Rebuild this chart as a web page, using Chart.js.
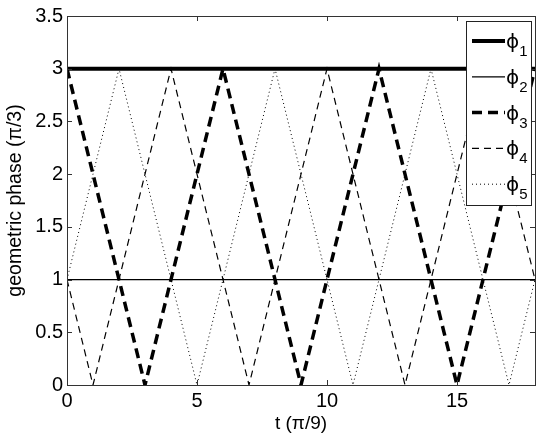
<!DOCTYPE html>
<html>
<head>
<meta charset="utf-8">
<script src="https://cdn.jsdelivr.net/npm/chart.js@4/dist/chart.umd.min.js"></script>
<style>
  html, body { margin: 0; padding: 0; background: #fff; }
  #grafico { display: block; }
</style>
</head>
<body>
<canvas id="grafico" width="545" height="436"></canvas>
<script>
// datos (t en unidades de pi/9, fase en pi/3)
const tiempos = [0, 1, 2, 3, 4, 5, 6, 7, 8, 9, 10, 11, 12, 13, 14, 15, 16, 17, 18];
const fase1 = [3, 3, 3, 3, 3, 3, 3, 3, 3, 3, 3, 3, 3, 3, 3, 3, 3, 3, 3];
const fase2 = [1, 1, 1, 1, 1, 1, 1, 1, 1, 1, 1, 1, 1, 1, 1, 1, 1, 1, 1];
const fase3 = [3, 2, 1, 0, 1, 2, 3, 2, 1, 0, 1, 2, 3, 2, 1, 0, 1, 2, 3];
const fase4 = [1, 0, 1, 2, 3, 2, 1, 0, 1, 2, 3, 2, 1, 0, 1, 2, 3, 2, 1];
const fase5 = [1, 2, 3, 2, 1, 0, 1, 2, 3, 2, 1, 0, 1, 2, 3, 2, 1, 0, 1];
const etiquetas = ['ϕ1', 'ϕ2', 'ϕ3', 'ϕ4', 'ϕ5'];
const ticksX = [0, 5, 10, 15];
const ticksY = [0, 0.5, 1, 1.5, 2, 2.5, 3, 3.5];

const fuente = '"Liberation Sans", Arial, Helvetica, sans-serif';

function puntos(valores) {
    return tiempos.map((t, i) => ({ x: t, y: valores[i] }));
}

const estilos = [
    { borderWidth: 4, borderDash: [] },
    { borderWidth: 1.2, borderDash: [] },
    { borderWidth: 3.5, borderDash: [10, 6] },
    { borderWidth: 1.2, borderDash: [7, 5] },
    { borderWidth: 1, borderDash: [1, 3] }
];

const series = [fase1, fase2, fase3, fase4, fase5];

const datasets = series.map((valores, i) => ({
    label: etiquetas[i],
    data: puntos(valores),
    borderColor: '#000',
    borderWidth: estilos[i].borderWidth,
    borderDash: estilos[i].borderDash,
    pointRadius: 0,
    fill: false,
    tension: 0
}));

// caja de ejes con marcas hacia dentro y leyenda dentro del area
const cajaYLeyenda = {
    id: 'cajaYLeyenda',
    afterDraw(chart) {
        const ctx = chart.ctx;
        const { left, right, top, bottom } = chart.chartArea;
        const sx = chart.scales.x;
        const sy = chart.scales.y;
        ctx.save();
        ctx.strokeStyle = '#333';
        ctx.lineWidth = 1;
        ctx.setLineDash([]);
        ctx.strokeRect(Math.round(left) + 0.5, Math.round(top) + 0.5,
            Math.round(right - left), Math.round(bottom - top));

        const largo = 5;
        ticksX.forEach(v => {
            const x = Math.round(sx.getPixelForValue(v)) + 0.5;
            ctx.beginPath();
            ctx.moveTo(x, bottom); ctx.lineTo(x, bottom - largo);
            ctx.moveTo(x, top); ctx.lineTo(x, top + largo);
            ctx.stroke();
        });
        ticksY.forEach(v => {
            const y = Math.round(sy.getPixelForValue(v)) + 0.5;
            ctx.beginPath();
            ctx.moveTo(left, y); ctx.lineTo(left + largo, y);
            ctx.moveTo(right, y); ctx.lineTo(right - largo, y);
            ctx.stroke();
        });

        // leyenda
        const lx = right - 69, ly = top + 5, lw = 65, lh = 184;
        ctx.fillStyle = '#fff';
        ctx.fillRect(lx, ly, lw, lh);
        ctx.strokeStyle = '#222';
        ctx.strokeRect(lx + 0.5, ly + 0.5, lw, lh);
        chart.data.datasets.forEach((ds, i) => {
            const cy = ly + 20 + i * 35.8;
            ctx.strokeStyle = '#000';
            ctx.lineWidth = ds.borderWidth;
            ctx.setLineDash(ds.borderDash);
            ctx.beginPath();
            ctx.moveTo(lx + 6, cy);
            ctx.lineTo(lx + 39, cy);
            ctx.stroke();
            ctx.setLineDash([]);
            ctx.fillStyle = '#000';
            ctx.textBaseline = 'alphabetic';
            ctx.textAlign = 'left';
            ctx.font = '20px "DejaVu Sans", ' + fuente;
            ctx.fillText(ds.label.charAt(0), lx + 40, cy + 7);
            const w = ctx.measureText(ds.label.charAt(0)).width;
            ctx.font = '15px ' + fuente;
            ctx.fillText(ds.label.slice(1), lx + 40 + w, cy + 15);
        });
        ctx.restore();
    }
};

const graph = document.querySelector('#grafico');

const config = {
    type: 'line',
    data: { datasets: datasets },
    options: {
        responsive: false,
        animation: false,
        layout: { padding: { top: 15, right: 10, left: 0, bottom: 0 } },
        plugins: {
            legend: { display: false },
            tooltip: { enabled: false }
        },
        scales: {
            x: {
                type: 'linear',
                min: 0,
                max: 18,
                afterBuildTicks: (scale) => { scale.ticks = ticksX.map(v => ({ value: v })); },
                afterFit: (scale) => { scale.height = 51; },
                grid: { display: false, drawTicks: false },
                border: { display: false },
                ticks: {
                    color: '#000',
                    padding: 4,
                    maxRotation: 0,
                    font: { family: fuente, size: 20 }
                },
                title: {
                    display: true,
                    text: 't (π/9)',
                    color: '#000',
                    padding: { top: 0, bottom: 1 },
                    font: { family: fuente, size: 19 }
                }
            },
            y: {
                type: 'linear',
                min: 0,
                max: 3.5,
                afterBuildTicks: (scale) => { scale.ticks = ticksY.map(v => ({ value: v })); },
                afterFit: (scale) => { scale.width = 67; },
                grid: { display: false, drawTicks: false },
                border: { display: false },
                ticks: {
                    color: '#000',
                    padding: 4,
                    font: { family: fuente, size: 20 },
                    callback: (v) => String(v)
                },
                title: {
                    display: true,
                    text: 'geometric phase (π/3)',
                    color: '#000',
                    padding: { top: 4, bottom: 0 },
                    font: { family: fuente, size: 19.5 }
                }
            }
        }
    },
    plugins: [cajaYLeyenda]
};

// Crear el grafico
const chartInstance = new Chart(graph, config);
</script>
</body>
</html>
